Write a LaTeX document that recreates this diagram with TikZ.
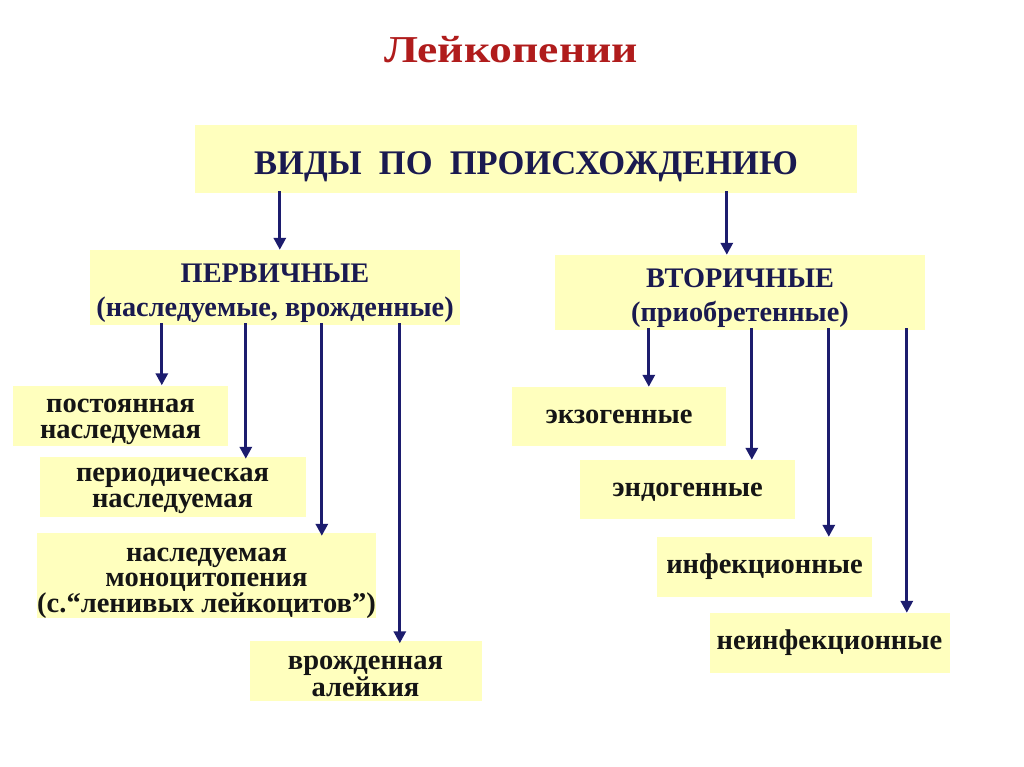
\documentclass[tikz,border=0pt]{standalone}
\usepackage{fontspec}
\setmainfont{Liberation Serif}
\newfontfamily\titlefont{Liberation Serif}[FakeStretch=1.2]
\usetikzlibrary{arrows.meta}
\definecolor{boxfill}{HTML}{FFFFBE}
\definecolor{navy}{HTML}{1C1C6E}
\definecolor{headtxt}{HTML}{1A1A50}
\definecolor{titlered}{HTML}{B01C1C}
\definecolor{leaftxt}{HTML}{151515}
\begin{document}
\begin{tikzpicture}[x=1pt,y=-1pt,
  box/.style={fill=boxfill, draw=none, inner sep=0pt, align=center, font=\bfseries},
  leaf/.style={box, text=leaftxt, font=\bfseries\fontsize{28.5}{25.5}\selectfont},
  single/.style={leaf, text height=13pt, text depth=0pt},
  mid/.style={box, text=headtxt, font=\bfseries\fontsize{28.3}{34}\selectfont},
  arr/.style={draw=navy, line width=3pt, -{Triangle[length=12pt,width=12pt]}}]
\useasboundingbox (0,0) rectangle (1024,767);
\fill[white] (0,0) rectangle (1024,767);

\node[anchor=base, text=titlered, font=\titlefont\bfseries\fontsize{38}{40}\selectfont] (title) at (511,63) {Лейкопении};

\node[box, text=headtxt, font=\bfseries\fontsize{34.5}{38}\selectfont, minimum width=662pt, minimum height=68pt, text height=32pt, text depth=0pt] (top) at (526,159) {ВИДЫ\ \ ПО\ \ ПРОИСХОЖДЕНИЮ};

\node[mid, minimum width=370pt, minimum height=75pt, text height=57pt, text depth=0pt] (perv) at (275,287.5) {ПЕРВИЧНЫЕ\\(наследуемые, врожденные)};
\node[mid, minimum width=370pt, minimum height=75pt, text height=57pt, text depth=0pt] (vtor) at (740,292.5) {ВТОРИЧНЫЕ\\(приобретенные)};

\node[leaf, minimum width=215pt, minimum height=60pt, text height=45pt, text depth=0pt] (post) at (120.5,415.5) {постоянная\\наследуемая};
\node[leaf, minimum width=266pt, minimum height=60pt, text height=40pt, text depth=0pt] (period) at (172.5,487) {периодическая\\наследуемая};
\node[leaf, minimum width=337pt, minimum height=85pt, text height=73pt, text depth=0pt] (mono) at (206.5,575.5) {наследуемая\\моноцитопения\\(с.“ленивых лейкоцитов”)};
\node[leaf, minimum width=232pt, minimum height=60pt, text height=51pt, text depth=0pt] (vrozh) at (365.5,670.5) {врожденная\\алейкия};

\node[single, minimum width=214pt, minimum height=59pt] (exo) at (619,416.5) {экзогенные};
\node[single, minimum width=215pt, minimum height=59pt] (endo) at (687.5,489.5) {эндогенные};
\node[single, minimum width=215pt, minimum height=60pt] (inf) at (764.5,567) {инфекционные};
\node[single, minimum width=240pt, minimum height=60pt] (neinf) at (829.5,643) {неинфекционные};

\coordinate (t1) at ([xshift=85pt,yshift=2pt]top.south west);
\coordinate (t2) at ([xshift=532pt,yshift=2pt]top.south west);
\coordinate (p1) at ([xshift=72pt,yshift=2pt]perv.south west);
\coordinate (p2) at ([xshift=156pt,yshift=2pt]perv.south west);
\coordinate (p3) at ([xshift=232pt,yshift=2pt]perv.south west);
\coordinate (p4) at ([xshift=310pt,yshift=2pt]perv.south west);
\coordinate (v1) at ([xshift=94pt,yshift=2pt]vtor.south west);
\coordinate (v2) at ([xshift=197pt,yshift=2pt]vtor.south west);
\coordinate (v3) at ([xshift=274pt,yshift=2pt]vtor.south west);
\coordinate (v4) at ([xshift=352pt,yshift=2pt]vtor.south west);

\draw[arr] (t1) -- (t1 |- perv.north);
\draw[arr] (t2) -- (t2 |- vtor.north);

\draw[arr] (p1) -- (p1 |- post.north);
\draw[arr] (p2) -- ([yshift=-2pt]p2 |- period.north);
\draw[arr] (p3) -- ([yshift=-3pt]p3 |- mono.north);
\draw[arr] (p4) -- ([yshift=-3pt]p4 |- vrozh.north);

\draw[arr] (v1) -- (v1 |- exo.north);
\draw[arr] (v2) -- (v2 |- endo.north);
\draw[arr] (v3) -- (v3 |- inf.north);
\draw[arr] (v4) -- (v4 |- neinf.north);
\end{tikzpicture}
\end{document}
